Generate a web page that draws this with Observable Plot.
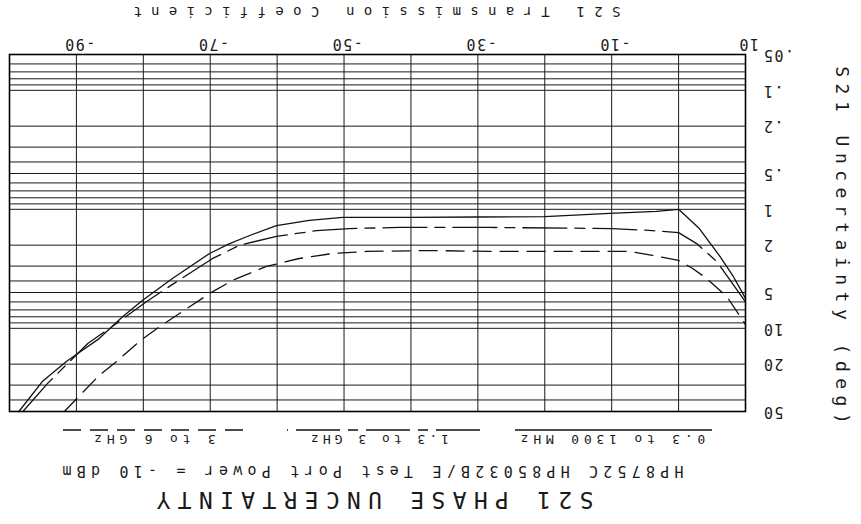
<!DOCTYPE html>
<html><head><meta charset="utf-8">
<script src="https://cdn.jsdelivr.net/npm/d3@7"></script>
<script src="https://cdn.jsdelivr.net/npm/@observablehq/plot@0.6"></script>
<style>
html,body{margin:0;padding:0;background:#fff;}
#chart{position:relative;width:861px;height:524px;transform:rotate(180deg);transform-origin:50% 50%;font-family:"DejaVu Sans Mono",monospace;color:#1a1a1a;overflow:hidden;background:#fff;}
.t{position:absolute;white-space:nowrap;line-height:1;}
#chart svg{position:absolute;}
</style></head><body>
<div id="chart"></div>
<script>
// ---- data ----
const seriesNames = ["0.3 to 1300 MHz", "1.3 to 3 GHz", "3 to 6 GHz"];

const lowBandDb  = [-98.6, -95.1, -91.5, -89.8, -86.6, -83.1, -80.1, -75.6, -70.1, -67.1, -64.1, -60.1, -55.2, -50.2, -40, -30, -20, -10.3, -3.3, 0, 3.1, 6.1, 8.1, 10];
const lowBandDeg = [50, 28, 19, 16.3, 12.2, 8.0, 5.8, 3.8, 2.35, 1.94, 1.66, 1.37, 1.24, 1.17, 1.17, 1.16, 1.15, 1.08, 1.04, 1.0, 1.45, 2.45, 3.6, 5.6];

const midBandDb  = [-98.0, -94.3, -88.3, -84.0, -79.5, -75.0, -69.7, -65.6, -60.1, -54.1, -49.2, -41.7, -28.3, -9.9, -3.9, 0, 2.7, 5.7, 10];
const midBandDeg = [50, 29, 13.4, 9.1, 5.95, 4.05, 2.6, 2.0, 1.69, 1.51, 1.45, 1.42, 1.42, 1.45, 1.51, 1.57, 1.94, 2.74, 6.0];

const highBandDb  = [-91.8, -89.5, -86.6, -84.0, -80.6, -77.6, -74.1, -70.1, -66.7, -61.6, -56.7, -51.7, -46.7, -36.8, -28.3, -7.3, -3.9, 0, 2.1, 4.2, 7.2, 9.6, 10];
const highBandDeg = [50, 36.7, 24.9, 19, 12.9, 9.7, 7.2, 5.1, 3.96, 3.02, 2.59, 2.35, 2.26, 2.22, 2.26, 2.26, 2.44, 2.69, 3.14, 3.81, 5.4, 8.6, 9.3];

const xTickValues = [-90, -70, -50, -30, -10, 10];
const xGridValues = [-100, -90, -80, -70, -60, -50, -40, -30, -20, -10, 0, 10];
const yTickValues = [0.05, 0.1, 0.2, 0.5, 1, 2, 5, 10, 20, 50];
const yTickLabels = [".05", ".1", ".2", ".5", "1", "2", "5", "10", "20", "50"];
const yGridValues = [0.05, 0.06, 0.07, 0.08, 0.09, 0.1, 0.2, 0.3, 0.4, 0.5, 0.6, 0.7, 0.8, 0.9,
                     1, 2, 3, 4, 5, 6, 7, 8, 9, 10, 20, 30, 40, 50];

const titleText = "S21 PHASE UNCERTAINTY";
const subtitleText = "HP8752C HP85032B/E Test Port Power = -10 dBm";
const xLabelText = "S21 Transmission Coefficient";
const yLabelText = "S21 Uncertainty (deg)";

// ---- build ----
const dbs = [lowBandDb, midBandDb, highBandDb];
const degs = [lowBandDeg, midBandDeg, highBandDeg];
const rows = seriesNames.flatMap((name, i) => dbs[i].map((d, j) => ({band: name, db: d, deg: degs[i][j]})));
const yTickRows = yTickValues.map((v, i) => ({v, label: yTickLabels[i]}));
const dashes = [null, "44,8,10,8", "18,9"];

const chart = document.getElementById("chart");

function addText(txt, {cx, baseline, fs, ls, rotate = false}) {
  const el = document.createElement("div");
  el.className = "t";
  el.textContent = txt;
  el.style.fontSize = fs + "px";
  el.style.letterSpacing = ls + "px";
  el.style.paddingLeft = ls + "px";
  el.style.left = cx + "px";
  if (!rotate) {
    el.style.top = (baseline - 0.846 * fs) + "px";
    el.style.transform = "translateX(-50%)";
  } else {
    el.style.top = baseline + "px";
    el.style.transform = "translate(-50%,-50%) rotate(-90deg)";
  }
  chart.appendChild(el);
  return el;
}

addText(titleText, {cx: 486, baseline: 32, fs: 23, ls: 7.3});
addText(subtitleText, {cx: 488, baseline: 59, fs: 15, ls: 5.2});

// legend
const legendCenters = [248, 481, 706];
const legendSpans = [[149, 346], [381, 574], [618, 804]];
const legendSpacing = [4.8, 4.0, 4.8];
seriesNames.forEach((name, i) => addText(name, {cx: legendCenters[i], baseline: 89, fs: 13, ls: legendSpacing[i]}));
const lsvg = d3.create("svg").attr("width", 861).attr("height", 12)
  .style("left", "0px").style("top", "88px");
legendSpans.forEach(([a, b], i) => {
  lsvg.append("line").attr("x1", a).attr("x2", b).attr("y1", 6).attr("y2", 6)
    .attr("stroke", "#111").attr("stroke-width", 1.3)
    .attr("stroke-dasharray", dashes[i]);
});
chart.appendChild(lsvg.node());

const marks = [
  Plot.ruleX(xGridValues, {stroke: "#1a1a1a", strokeWidth: 1}),
  Plot.ruleY(yGridValues, {stroke: "#1a1a1a", strokeWidth: 1}),
  ...seriesNames.map((name, i) => Plot.line(rows.filter(r => r.band === name), {
    x: "db", y: "deg", stroke: "#111", strokeWidth: 1.3, strokeDasharray: dashes[i] ?? undefined
  })),
  Plot.frame({stroke: "#000", strokeWidth: 1.6}),
  Plot.axisX({ticks: xTickValues, tickSize: 0, tickPadding: 5, label: null, tickFormat: d => String(d), dx: -3}),
  Plot.text(yTickRows, {y: "v", text: "label", frameAnchor: "left", textAnchor: "end", dx: -17, fill: "#1a1a1a"})
];

const plot = Plot.plot({
  width: 861, height: 424,
  marginTop: 12, marginBottom: 55, marginLeft: 115, marginRight: 10,
  style: 'font-family:"DejaVu Sans Mono",monospace;font-size:15px;letter-spacing:1.5px;color:#1a1a1a;background:transparent;',
  x: {type: "linear", domain: [10, -100]},
  y: {type: "log", domain: [0.05, 50], axis: null},
  marks
});
plot.style.position = "absolute";
plot.style.left = "0px";
plot.style.top = "100px";
chart.appendChild(plot);

addText(xLabelText, {cx: 484, baseline: 517, fs: 14, ls: 9.3});
addText(yLabelText, {cx: 19, baseline: 279, fs: 18, ls: 6.5, rotate: true});
</script>
</body></html>
